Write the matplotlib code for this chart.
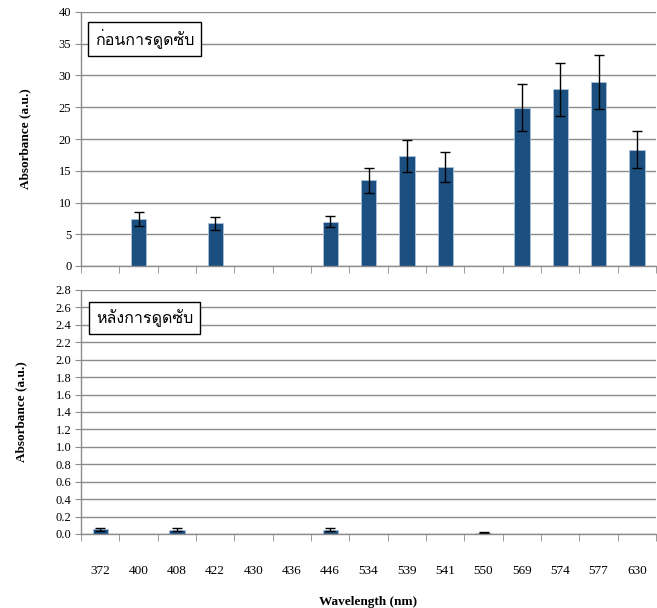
import matplotlib
matplotlib.use("Agg")
import matplotlib.pyplot as plt
from matplotlib import font_manager
from matplotlib.ft2font import FT2Font

wavelengths = ["372", "400", "408", "422", "430", "436", "446", "534",
               "539", "541", "550", "569", "574", "577", "630"]

before = [0, 7.4, 0, 6.7, 0, 0, 7.0, 13.5, 17.3, 15.6, 0, 24.9, 27.8, 29.0, 18.3]
before_err = [0, 1.1, 0, 1.0, 0, 0, 0.9, 2.0, 2.5, 2.4, 0, 3.7, 4.1, 4.2, 2.9]

after = [0.054, 0, 0.05, 0, 0, 0, 0.05, 0, 0, 0, 0.015, 0, 0, 0, 0]
after_err = [0.018, 0, 0.015, 0, 0, 0, 0.015, 0, 0, 0, 0.008, 0, 0, 0, 0]


def find_thai_font():
    # first font with Thai glyphs whose tone marks have zero advance
    fallback = None
    for path in sorted(font_manager.findSystemFonts()):
        try:
            f = FT2Font(path)
            if not (f.get_char_index(0x0E01) and f.get_char_index(0x0E48)):
                continue
            name = font_manager.FontProperties(fname=path).get_name()
            if f.load_char(0x0E48).horiAdvance == 0:
                return name
            fallback = fallback or name
        except Exception:
            continue
    return fallback or "DejaVu Sans"


thai_font = find_thai_font()

bar_color = "#1B4F80"
grid_color = "#8C8C8C"
serif = "Liberation Serif"

fig = plt.figure(figsize=(6.57, 6.08), dpi=100)
ax1 = fig.add_axes([81 / 657, 1 - 266 / 608, 575 / 657, 254 / 608])
ax2 = fig.add_axes([81 / 657, 1 - 534 / 608, 575 / 657, 244 / 608])

x = list(range(len(wavelengths)))


def style(ax, ymax, step, fmt):
    ax.set_xlim(-0.5, len(wavelengths) - 0.5)
    ax.set_ylim(0, ymax)
    ticks = [i * step for i in range(int(round(ymax / step)) + 1)]
    ax.set_yticks(ticks)
    ax.set_yticklabels([fmt.format(t) for t in ticks], fontfamily=serif, fontsize=9)
    ax.yaxis.grid(True, color=grid_color, linewidth=1)
    ax.set_axisbelow(True)
    for s in ["top", "right"]:
        ax.spines[s].set_visible(False)
    for s in ["left", "bottom"]:
        ax.spines[s].set_color(grid_color)
        ax.spines[s].set_linewidth(1)
    ax.tick_params(axis="y", length=4, color=grid_color, pad=3)
    ax.set_xticks([i - 0.5 for i in range(len(wavelengths) + 1)], minor=True)
    ax.set_xticks(x)
    ax.tick_params(axis="x", which="major", length=0)
    ax.tick_params(axis="x", which="minor", length=5, color=grid_color)
    ax.set_ylabel("Absorbance (a.u.)", fontfamily=serif, fontweight="bold", fontsize=9.5, labelpad=20)


for ax, vals, errs in [(ax1, before, before_err), (ax2, after, after_err)]:
    idx = [i for i, v in enumerate(vals) if v > 0]
    xs = [x[i] for i in idx]
    ys = [vals[i] for i in idx]
    es = [errs[i] for i in idx]
    ax.bar(xs, ys, width=0.4, color=bar_color, edgecolor="#A9C1DA", linewidth=0.6)
    ax.errorbar(xs, ys, yerr=[[min(e, y) for y, e in zip(ys, es)], es],
                fmt="none", ecolor="black", elinewidth=1, capsize=3.5, capthick=1)

style(ax1, 40, 5, "{:.0f}")
style(ax2, 2.8, 0.2, "{:.1f}")
ax1.set_xticklabels([])
ax2.set_xticklabels(wavelengths, fontfamily=serif, fontsize=9.5)
ax2.tick_params(axis="x", which="major", pad=22)
ax2.set_xlabel("Wavelength (nm)", fontfamily=serif, fontweight="bold", fontsize=9.5, labelpad=14)

box = dict(boxstyle="square,pad=0.45", facecolor="white", edgecolor="black", linewidth=1)
ax1.text(0.024, 0.893, "ก่อนการดูดซับ", transform=ax1.transAxes, fontfamily=[thai_font, "DejaVu Sans"],
         fontsize=11.5, va="center", ha="left", bbox=box)
ax2.text(0.026, 0.885, "หลังการดูดซับ", transform=ax2.transAxes, fontfamily=[thai_font, "DejaVu Sans"],
         fontsize=11.5, va="center", ha="left", bbox=box)

fig.savefig("out.png", dpi=100)
